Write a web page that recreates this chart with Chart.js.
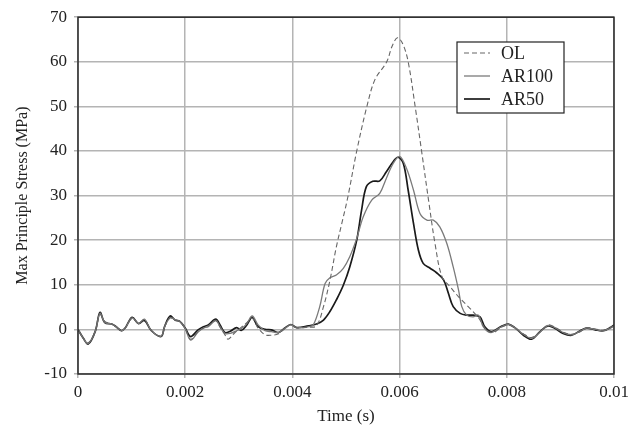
<!DOCTYPE html>
<html>
<head>
<meta charset="utf-8">
<script src="https://cdn.jsdelivr.net/npm/chart.js@4.4.1/dist/chart.umd.min.js"></script>
<style>
  html, body { margin: 0; padding: 0; background: #fff; }
  #wrap { width: 641px; height: 432px; }
</style>
</head>
<body>
<div id="wrap"><canvas id="grafico"></canvas></div>
<script>
// --- DATOS ---
const timeOL = [
  0, 0.0001, 0.00019, 0.00032, 0.00041, 0.0005, 0.00063, 0.0007, 0.00081, 0.00088,
  0.00101, 0.00113, 0.00124, 0.00137, 0.00155, 0.00162, 0.00172, 0.00181, 0.0019, 0.002,
  0.0021, 0.00224, 0.00234, 0.00243, 0.00257, 0.00265, 0.00274, 0.0028, 0.00292, 0.00305,
  0.00315, 0.00325, 0.00336, 0.00349, 0.00361, 0.00374, 0.00386, 0.00397, 0.00408, 0.0043,
  0.00445, 0.00458, 0.0047, 0.00482, 0.00495, 0.00504, 0.0052, 0.00539, 0.00554, 0.00576,
  0.00586, 0.00596, 0.00606, 0.00616, 0.00629, 0.00641, 0.00654, 0.00666, 0.00679, 0.00694,
  0.0071, 0.00728, 0.00746, 0.00762, 0.00775, 0.0079, 0.00803, 0.00815, 0.00831, 0.00846,
  0.00862, 0.00877, 0.0089, 0.00905, 0.00921, 0.00937, 0.00949, 0.00965, 0.0098, 0.00993, 0.01
];
const stressOL = [
  0, -2, -3.0, -0.5, 3.4, 1.8, 1.2, 0.6, -0.3, 0.3,
  2.5, 1.3, 2.2, -0.3, -1.5, 0.7, 2.6, 2.1, 1.8, 0.2,
  -2.2, -0.5, 0.3, 0.8, 2.0, 0.5, -1.2, -2.2, -0.8, 0.5,
  1.5, 2.5, 0.3, -1.2, -1.3, -1.0, 0.3, 1.1, 0.4, 0.5,
  0.8, 5.1, 11.0, 18.5, 25.2, 30.0, 40.0, 50.0, 56.0, 60.0,
  63.5, 65.4, 64.0, 60.0, 50.0, 40.0, 29.0, 19.3, 11.8, 9.6,
  7.3, 5.1, 2.8, -0.1, -0.7, 0.5, 1.0, 0.3, -1.0, -1.8,
  -0.6, 1.0, 0.5, -0.6, -1.1, -0.5, 0.4, 0.1, -0.2, 0.3, 0.8
];

const timeAR100 = [
  0, 0.0001, 0.00019, 0.00032, 0.00041, 0.0005, 0.00063, 0.0007, 0.00081, 0.00088,
  0.00101, 0.00113, 0.00124, 0.00137, 0.00155, 0.00162, 0.00172, 0.00181, 0.0019, 0.002,
  0.0021, 0.00224, 0.00234, 0.00243, 0.00257, 0.00265, 0.00274, 0.00284, 0.00296, 0.00305,
  0.00315, 0.00325, 0.00336, 0.00349, 0.00361, 0.00374, 0.00386, 0.00397, 0.00408, 0.0043,
  0.00439, 0.00451, 0.00461, 0.0047, 0.00482, 0.00495, 0.00507, 0.0052, 0.00532, 0.00548,
  0.00563, 0.00575, 0.00588, 0.006, 0.00613, 0.00626, 0.00638, 0.00651, 0.00663, 0.00675,
  0.00688, 0.007, 0.0071, 0.00716, 0.00725, 0.00737, 0.00747, 0.00756, 0.00769, 0.0079,
  0.00803, 0.00815, 0.00831, 0.00846, 0.00862, 0.00877, 0.0089, 0.00905, 0.00921, 0.00937,
  0.00949, 0.00965, 0.0098, 0.00993, 0.01
];
const stressAR100 = [
  0, -2, -3.2, -0.5, 3.6, 1.6, 1.2, 0.7, -0.3, 0.3,
  2.6, 1.3, 2.3, -0.3, -1.5, 0.7, 2.6, 2.2, 1.8, 0.2,
  -2.4, -0.6, 0.3, 0.6, 2.0, 0.6, -0.9, -0.9, -0.3, 0.2,
  1.3, 3.0, 1.0, -0.3, -0.5, -0.7, 0.2, 1.0, 0.4, 0.6,
  1.0, 5.1, 10.3, 11.6, 12.2, 13.7, 16.3, 20.4, 25.2, 29.0,
  30.5, 33.8, 37.2, 38.8, 36.1, 31.2, 26.0, 24.5, 24.5, 23.0,
  19.3, 14.0, 8.8, 5.1, 3.2, 2.8, 3.2, 0.6, -0.7, 0.6,
  1.1, 0.4, -1.1, -2.0, -0.6, 0.9, 0.4, -0.7, -1.2, -0.4,
  0.3, 0.0, -0.3, 0.3, 0.8
];

const timeAR50 = [
  0, 0.0001, 0.00019, 0.00032, 0.00041, 0.0005, 0.00063, 0.0007, 0.00081, 0.00088,
  0.00101, 0.00113, 0.00124, 0.00137, 0.00155, 0.00162, 0.00172, 0.00181, 0.0019, 0.002,
  0.0021, 0.00224, 0.00234, 0.00243, 0.00257, 0.00265, 0.00274, 0.00284, 0.00296, 0.00305,
  0.00315, 0.00325, 0.00336, 0.00349, 0.00361, 0.00374, 0.00386, 0.00397, 0.00408, 0.0043,
  0.00445, 0.00458, 0.0047, 0.00482, 0.00495, 0.00507, 0.0052, 0.00529, 0.00538, 0.0055,
  0.00563, 0.00575, 0.00588, 0.00597, 0.00607, 0.00616, 0.00626, 0.00635, 0.00644, 0.00657,
  0.00669, 0.00682, 0.00691, 0.007, 0.00713, 0.00725, 0.00737, 0.0075, 0.00759, 0.00772,
  0.0079, 0.00803, 0.00815, 0.00831, 0.00846, 0.00862, 0.00877, 0.0089, 0.00905, 0.00921,
  0.00937, 0.00949, 0.00965, 0.0098, 0.00993, 0.01
];
const stressAR50 = [
  0, -2, -3.3, -0.5, 3.8, 1.5, 1.2, 0.7, -0.3, 0.3,
  2.7, 1.3, 2.0, -0.3, -1.6, 0.8, 3.0, 2.1, 1.8, 0.3,
  -1.6, -0.1, 0.6, 1.0, 2.3, 1.0, -0.7, -0.4, 0.4, -0.2,
  1.0, 2.7, 0.6, 0, -0.1, -0.7, 0.3, 1.1, 0.4, 0.8,
  1.2, 2.1, 4.0, 6.6, 9.9, 14.0, 20.0, 26.7, 32.0, 33.2,
  33.3, 35.3, 37.6, 38.6, 37.2, 31.2, 23.7, 17.8, 14.8, 13.7,
  12.7, 11.1, 8.1, 5.1, 3.6, 3.2, 3.2, 2.8, 0.6, -0.5,
  0.7, 1.2, 0.4, -1.3, -2.2, -0.5, 0.8, 0.2, -0.9, -1.3,
  -0.3, 0.3, -0.1, -0.3, 0.4, 1.0
];

const xTicks = [0, 0.002, 0.004, 0.006, 0.008, 0.01];
const yMin = -10, yMax = 70, yStep = 10;

function puntos(ts, vs) {
  return ts.map((t, i) => ({ x: t, y: vs[i] }));
}

const fuente = "'Liberation Serif', 'Times New Roman', serif";

// Borde completo del area del grafico
const bordePlugin = {
  id: 'borde',
  afterDatasetsDraw(chart) {
    const { ctx, chartArea: a } = chart;
    ctx.save();
    ctx.strokeStyle = '#2a2a2a';
    ctx.lineWidth = 1.5;
    ctx.strokeRect(a.left, a.top, a.right - a.left, a.bottom - a.top);
    ctx.restore();
  }
};

// Leyenda dentro del grafico con recuadro
const leyendaPlugin = {
  id: 'leyendaCaja',
  afterDraw(chart) {
    const ctx = chart.ctx;
    const x0 = 457, y0 = 42, w = 107, h = 71;
    ctx.save();
    ctx.fillStyle = '#fff';
    ctx.fillRect(x0, y0, w, h);
    ctx.strokeStyle = '#222';
    ctx.lineWidth = 1.2;
    ctx.strokeRect(x0, y0, w, h);
    chart.data.datasets.forEach((ds, i) => {
      const y = y0 + 11 + i * 23;
      ctx.strokeStyle = ds.borderColor;
      ctx.lineWidth = ds.borderWidth;
      ctx.setLineDash(ds.borderDash || []);
      ctx.beginPath();
      ctx.moveTo(x0 + 7, y);
      ctx.lineTo(x0 + 33, y);
      ctx.stroke();
      ctx.setLineDash([]);
      ctx.fillStyle = '#222';
      ctx.font = '18px ' + fuente;
      ctx.textBaseline = 'middle';
      ctx.fillText(ds.label, x0 + 44, y + 1);
    });
    ctx.restore();
  }
};

new Chart(document.getElementById('grafico'), {
  type: 'line',
  data: {
    datasets: [
      {
        label: 'OL',
        data: puntos(timeOL, stressOL),
        borderColor: '#666',
        borderWidth: 1.1,
        borderDash: [5, 3]
      },
      {
        label: 'AR100',
        data: puntos(timeAR100, stressAR100),
        borderColor: '#7a7a7a',
        borderWidth: 1.3
      },
      {
        label: 'AR50',
        data: puntos(timeAR50, stressAR50),
        borderColor: '#1a1a1a',
        borderWidth: 1.7
      }
    ]
  },
  options: {
    responsive: true,
    maintainAspectRatio: false,
    animation: false,
    layout: { padding: { top: 17, right: 27, left: 0, bottom: 0 } },
    elements: {
      point: { radius: 0 },
      line: { tension: 0.35, fill: false }
    },
    plugins: {
      legend: { display: false },
      tooltip: { enabled: false }
    },
    scales: {
      x: {
        type: 'linear',
        min: 0,
        max: 0.01,
        afterFit(scale) { scale.height = 58; },
        afterBuildTicks(scale) { scale.ticks = xTicks.map(v => ({ value: v })); },
        grid: { color: '#b4b4b4', lineWidth: 1.5, tickLength: 4, drawTicks: true },
        border: { display: false },
        ticks: {
          color: '#222',
          padding: 4,
          maxRotation: 0,
          font: { family: fuente, size: 17 },
          callback: v => String(+v.toFixed(3))
        },
        title: {
          display: true,
          text: 'Time (s)',
          color: '#222',
          font: { family: fuente, size: 17 },
          padding: { top: 0, bottom: 5 }
        }
      },
      y: {
        type: 'linear',
        min: yMin,
        max: yMax,
        afterFit(scale) { scale.width = 78; },
        grid: { color: '#b4b4b4', lineWidth: 1.5, tickLength: 4 },
        border: { display: false },
        ticks: {
          stepSize: yStep,
          color: '#222',
          padding: 7,
          font: { family: fuente, size: 17 }
        },
        title: {
          display: true,
          text: 'Max Principle Stress (MPa)',
          color: '#222',
          font: { family: fuente, size: 16 },
          padding: { top: 13, bottom: 0 }
        }
      }
    }
  },
  plugins: [bordePlugin, leyendaPlugin]
});
</script>
</body>
</html>
